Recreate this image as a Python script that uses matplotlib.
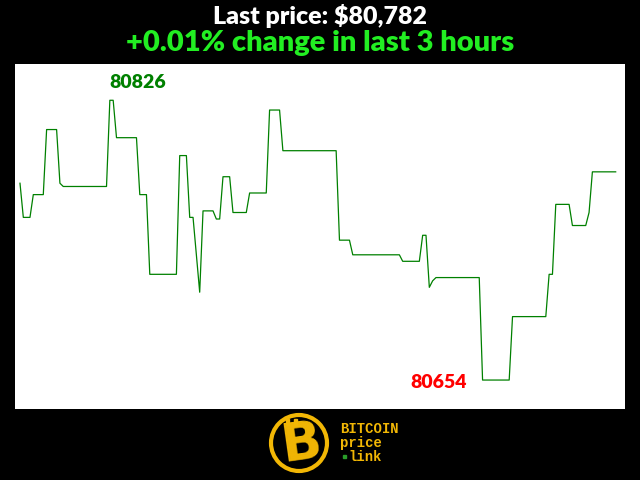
import numpy as np
import matplotlib.pyplot as plt
from matplotlib.patches import Circle, Rectangle

# minute index (0..179 over last 3 hours) and price at each vertex of the line
minutes = [0, 1, 3, 4, 7, 8, 11, 12, 13, 26, 27, 28, 29, 35, 36, 38, 39, 47, 48, 50,
           51, 52, 54, 55, 58, 59, 60, 61, 63, 64, 68, 69, 74, 75, 78, 79, 95, 96, 99, 100,
           114, 115, 120, 121, 122, 123, 124, 125, 138, 139, 147, 148, 158, 159, 160, 161, 165, 166, 170, 171,
           172, 179]
prices = [80775, 80754, 80754, 80768, 80768, 80808, 80808, 80775, 80773, 80773, 80826, 80826, 80803, 80803,
          80768, 80768, 80719, 80719, 80792, 80792, 80754, 80754, 80708, 80758, 80758, 80753, 80753, 80779,
          80779, 80757, 80757, 80769, 80769, 80820, 80820, 80795, 80795, 80740, 80740, 80731, 80731, 80727,
          80727, 80743, 80743, 80711, 80715, 80717, 80717, 80654, 80654, 80693, 80693, 80719, 80719, 80762,
          80762, 80749, 80749, 80757, 80782, 80782]

last_price = 80782
change_pct = 0.01
hi = max(prices)
lo = min(prices)
hi_minute = minutes[prices.index(hi)]
lo_minute = minutes[prices.index(lo)]

fig = plt.figure(figsize=(6.4, 4.8), dpi=100, facecolor='black')

ax = fig.add_axes([15 / 640, 1 - 409 / 480, 610 / 640, 345 / 480])
ax.set_facecolor('white')
ax.plot(minutes, prices, color='#008000', linewidth=0.9)
ax.set_xlim(-1.5, 181.8)
ax.set_ylim(80636.2, 80848.3)
ax.set_xticks([])
ax.set_yticks([])
for s in ax.spines.values():
    s.set_visible(False)

ax.annotate(str(hi), (hi_minute, hi), xytext=(138 / 640, 1 - 83 / 480), textcoords='figure fraction',
            ha='center', va='center', color='#008000', fontsize=14, fontweight='heavy', family='Lato')
ax.annotate(str(lo), (lo_minute, lo), xytext=(439 / 640, 1 - 383 / 480), textcoords='figure fraction',
            ha='center', va='center', color='#ff0000', fontsize=14, fontweight='heavy', family='Lato')

fig.text(0.5, 1 - 16 / 480, 'Last price: ${:,}'.format(last_price), ha='center', va='center',
         color='white', fontsize=18, fontweight='heavy', family='Lato')
fig.text(0.5, 1 - 43 / 480, '+{:.2f}% change in last 3 hours'.format(change_pct), ha='center', va='center',
         color='#22ee22', fontsize=21, fontweight='heavy', family='Lato')

# logo at the bottom, drawn in pixel coordinates
lg = fig.add_axes([0, 0, 1, 1], zorder=-1)
lg.set_xlim(0, 640)
lg.set_ylim(480, 0)
lg.axis('off')
gold = '#f2b705'
lg.add_patch(Circle((299, 443), 28, facecolor='black', edgecolor=gold, linewidth=3))
lg.text(301, 444, 'B', ha='center', va='center', color=gold, fontsize=38, fontweight='heavy',
        family='DejaVu Sans', rotation=8)
lg.add_patch(Rectangle((286, 419), 3, 6, color=gold))
lg.add_patch(Rectangle((294, 419), 3, 6, color=gold))
lg.text(340, 429, 'BITCOIN', ha='left', va='center', color=gold, fontsize=10, fontweight='bold',
        family='Liberation Mono')
lg.text(340, 443, 'price', ha='left', va='center', color=gold, fontsize=10, fontweight='bold',
        family='Liberation Mono')
lg.text(348, 457, 'link', ha='left', va='center', color=gold, fontsize=10, fontweight='bold',
        family='Liberation Mono')
lg.add_patch(Rectangle((343, 455), 3, 3, color='#2a9d2a'))

fig.savefig('out.png', dpi=100, facecolor='black')
